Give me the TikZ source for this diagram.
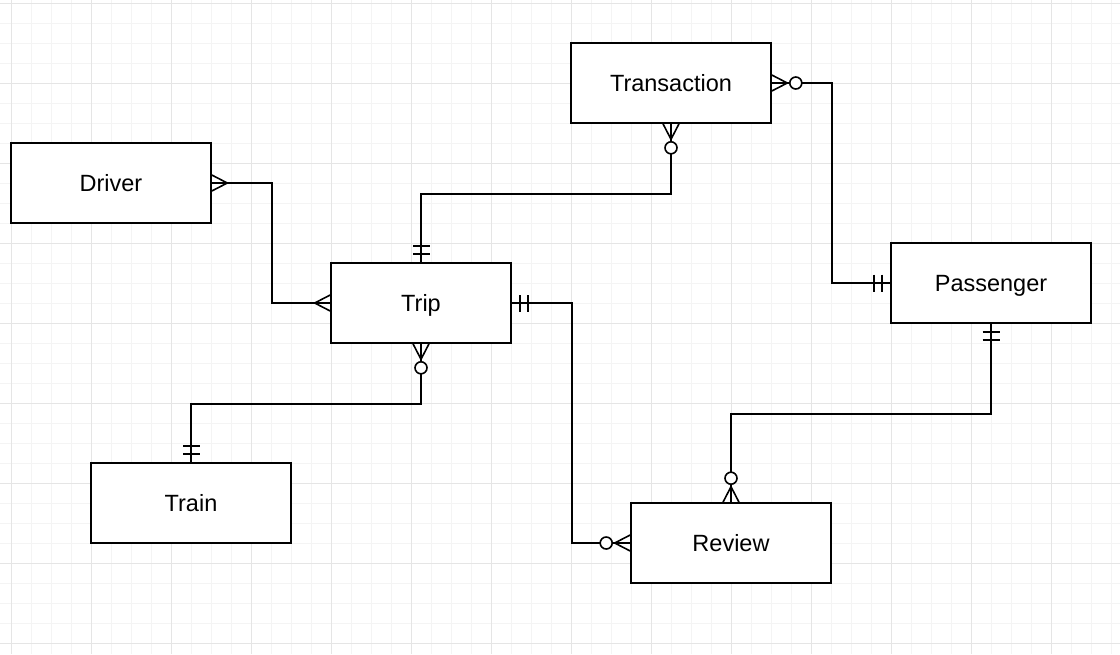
\documentclass[tikz,border=0pt]{standalone}
\usepackage{fontspec}
\setmainfont{Liberation Sans}
\definecolor{gridminor}{HTML}{F4F4F4}
\definecolor{gridmajor}{HTML}{E5E5E5}
\tikzset{
  entity/.style={draw, line width=1.6pt, fill=white, minimum width=200pt, minimum height=80pt,
    inner sep=0pt, text height=16pt, text depth=0pt, font=\fontsize{23.5}{28}\selectfont},
  conn/.style={line width=1.6pt},
  gminor/.style={gridminor, line width=1pt},
  gmajor/.style={gridmajor, line width=1pt},
  pics/many/.style={code={
    \draw[line width=1.6pt] (0,8) -- (15.5,0) -- (0,-8);
  }},
  pics/zeromany/.style={code={
    \draw[line width=1.6pt] (0,8) -- (15.5,0) -- (0,-8);
    \draw[line width=1.6pt, fill=white] (24,0) circle[radius=6pt];
  }},
  pics/mandone/.style={code={
    \draw[line width=1.6pt] (8,8.5) -- (8,-8.5) (16,8.5) -- (16,-8.5);
  }},
}
\begin{document}
\begin{tikzpicture}[x=1pt, y=-1pt]
\useasboundingbox (0,0) rectangle (1120,654);
\fill[white] (0,0) rectangle (1120,654);
% grid
\foreach \x in {11,31,...,1111} \draw[gminor] (\x,0) -- (\x,654);
\foreach \y in {3,23,...,643} \draw[gminor] (0,\y) -- (1120,\y);
\foreach \x in {11,91,...,1051} \draw[gmajor] (\x,0) -- (\x,654);
\foreach \y in {3,83,...,643} \draw[gmajor] (0,\y) -- (1120,\y);

% entities
\node[entity] (transaction) at (671,83) {Transaction};
\node[entity] (driver) at (111,183) {Driver};
\node[entity, minimum width=180pt] (trip) at (421,303) {Trip};
\node[entity] (passenger) at (991,283) {Passenger};
\node[entity] (train) at (191,503) {Train};
\node[entity] (review) at (731,543) {Review};

% connectors
\draw[conn] (driver.east) -- ++(60,0) |- (trip.west);
\draw[conn] (transaction.south) -- ++(0,70) -| (trip.north);
\draw[conn] (transaction.east) -- ++(60,0) |- (passenger.west);
\draw[conn] (trip.east) -- ++(60,0) |- (review.west);
\draw[conn] (passenger.south) -- ++(0,90) -| (review.north);
\draw[conn] (trip.south) -- ++(0,60) -| (train.north);

% markers
\pic[rotate=0] at (driver.east) {many};
\pic[rotate=180] at (trip.west) {many};
\pic[rotate=-90] at (transaction.south) {zeromany};
\pic[rotate=90] at (trip.north) {mandone};
\pic[rotate=0] at (transaction.east) {zeromany};
\pic[rotate=180] at (passenger.west) {mandone};
\pic[rotate=0] at (trip.east) {mandone};
\pic[rotate=180] at (review.west) {zeromany};
\pic[rotate=-90] at (passenger.south) {mandone};
\pic[rotate=90] at (review.north) {zeromany};
\pic[rotate=-90] at (trip.south) {zeromany};
\pic[rotate=90] at (train.north) {mandone};
\end{tikzpicture}
\end{document}
